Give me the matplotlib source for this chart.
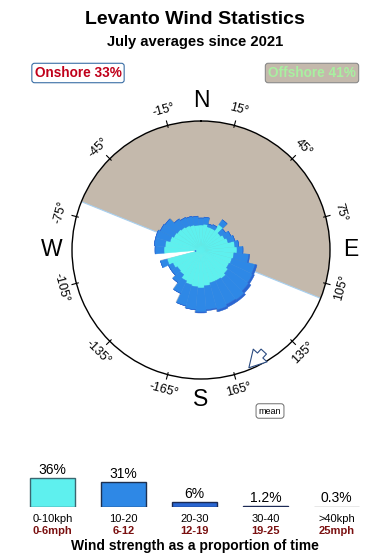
import numpy as np
import matplotlib.pyplot as plt

plt.rcParams['font.family'] = ['Liberation Sans', 'DejaVu Sans']

# wind rose, 10 degree bins, radial extent of each speed band
directions = np.arange(0, 360, 10)
band_0_10 = [2.5, 2.6, 2.4, 2.4, 3.1, 2.4, 2.6, 2.8, 3.4, 3.6, 3.3, 3.2,
             3.1, 3.3, 3.5, 3.4, 3.4, 3.6, 3.8, 3.7, 3.6, 3.4, 3.0, 2.9,
             3.1, 3.5, 0.5, 3.7, 3.6, 3.2, 3.0, 2.9, 2.8, 2.7, 2.6, 2.5]
band_10_20 = [0.7, 0.7, 0.3, 0.4, 0.6, 0.6, 0.7, 0.7, 0.4, 0.6, 1.5, 2.4,
              2.6, 2.5, 2.6, 2.6, 2.8, 2.4, 2.4, 2.3, 2.2, 1.4, 1.0, 0.7,
              0.5, 0.7, 0.1, 0.9, 1.1, 1.5, 1.5, 1.5, 1.0, 0.9, 0.9, 0.9]
band_20_30 = [0, 0, 0, 0, 0, 0, 0, 0, 0, 0, 0.1, 0.2,
              0.2, 0.3, 0.2, 0.3, 0.2, 0.1, 0.1, 0, 0, 0, 0, 0,
              0, 0, 0, 0, 0, 0, 0, 0, 0, 0, 0, 0]

speed_kph = ['0-10kph', '10-20', '20-30', '30-40', '>40kph']
speed_mph = ['0-6mph', '6-12', '12-19', '19-25', '25mph']
speed_share = [36, 31, 6, 1.2, 0.3]
share_labels = ['36%', '31%', '6%', '1.2%', '0.3%']

onshore_pct = 33
offshore_pct = 41
offshore_from, offshore_to = -68, 112
mean_dir = 159

band_colors = ['#5ef0ee', '#2e88e6', '#2a66d2', '#1c2a55', '#9a9a9a']
band_edges = ['#3b6670', '#1d3050', '#1a2a55', '#1c2a55', '#8a8a8a']
beige = '#c4b9ac'

W, H = 390, 560
fig = plt.figure(figsize=(W / 100, H / 100), dpi=100)

fig.text(0.5, 1 - 19 / H, 'Levanto Wind Statistics', ha='center', va='center',
         fontsize=14, fontweight='bold')
fig.text(0.5, 1 - 42 / H, 'July averages since 2021', ha='center', va='center',
         fontsize=10.6, fontweight='bold')

fig.text(78 / W, 1 - 73 / H, 'Onshore %d%%' % onshore_pct, ha='center', va='center',
         fontsize=9.8, fontweight='bold', color='#c0001a',
         bbox=dict(boxstyle='round,pad=0.2', fc='white', ec='#3a6ea5', lw=0.8))
fig.text(312 / W, 1 - 73 / H, 'Offshore %d%%' % offshore_pct, ha='center', va='center',
         fontsize=9.8, fontweight='bold', color='#a8f0a0',
         bbox=dict(boxstyle='round,pad=0.2', fc=beige, ec='#8a8a8a', lw=0.8))

# rose
cx, cy, R = 201, 250, 129
rmax = 12.9
ax = fig.add_axes([(cx - R) / W, (H - cy - R) / H, 2 * R / W, 2 * R / H],
                  projection='polar')
ax.set_theta_zero_location('N')
ax.set_theta_direction(-1)
ax.set_ylim(0, rmax)
ax.grid(False)
ax.set_xticks([])
ax.set_yticks([])
ax.spines['polar'].set_color('black')
ax.spines['polar'].set_linewidth(1.0)

mid = np.radians((offshore_from + offshore_to) / 2)
ax.bar(mid, rmax, width=np.radians(offshore_to - offshore_from), bottom=0,
       color=beige, edgecolor='none', zorder=1)
ax.plot([np.radians(offshore_from), 0, np.radians(offshore_to)], [rmax, 0, rmax],
        color='#a8d0f0', lw=0.8, zorder=1.5)

theta = np.radians(directions)
width = np.radians(10)
bottom = np.zeros(len(directions))
for vals, col, ec in zip([band_0_10, band_10_20, band_20_30], band_colors, band_edges):
    vals = np.array(vals)
    # slight darker shadow to mimic the 3D look
    ax.bar(theta + np.radians(1.0), vals, width=width, bottom=bottom,
           color=ec, edgecolor='none', alpha=0.3, zorder=2)
    ax.bar(theta, vals, width=width, bottom=bottom, color=col,
           edgecolor=col, linewidth=0.3, zorder=3)
    bottom = bottom + vals

# angle ticks and labels
for deg in range(-165, 180, 30):
    t = np.radians(deg)
    ax.plot([t, t], [rmax * 0.985, rmax * 1.035], color='black', lw=0.8,
            clip_on=False, zorder=4)
    rot = -deg if abs(deg) < 90 else 180 - deg
    ax.text(t, rmax * 1.124, '%d°' % deg, ha='center', va='center',
            rotation=rot, rotation_mode='anchor', fontsize=9)

for lab, deg in zip(['N', 'E', 'S', 'W'], [0, 90, 180, 270]):
    ax.text(np.radians(deg), rmax * 1.16, lab, ha='center', va='center', fontsize=16.5)

ax.annotate('', xy=(np.radians(mean_dir), rmax * 0.995),
            xytext=(np.radians(mean_dir - 12), rmax * 0.92),
            arrowprops=dict(arrowstyle='simple,head_length=0.8,head_width=0.9,tail_width=0.35',
                            fc='white', ec='#2a4a80', lw=0.8, mutation_scale=15),
            zorder=5)

fig.text(270 / W, 1 - 411 / H, 'mean', ha='center', va='center', fontsize=6.5,
         bbox=dict(boxstyle='round,pad=0.3', fc='white', ec='#555555', lw=0.6))

# speed distribution bars
bx = fig.add_axes([17 / W, (H - 507) / H, 355 / W, 40 / H])
pos = np.arange(len(speed_share))
bx.bar(pos, speed_share, width=45 / 71, color=band_colors, edgecolor=band_edges,
       linewidth=1.0)
bx.set_xlim(-0.5, 4.5)
bx.set_ylim(0, 50)
bx.axis('off')
for p, v, lab, kph, mph in zip(pos, speed_share, share_labels, speed_kph, speed_mph):
    bx.annotate(lab, xy=(p, v), xytext=(0, 6), textcoords='offset points',
                ha='center', va='center', fontsize=10)
    bx.annotate(kph, xy=(p, 0), xytext=(0, -9), textcoords='offset points',
                ha='center', va='center', fontsize=8)
    bx.annotate(mph, xy=(p, 0), xytext=(0, -17.3), textcoords='offset points',
                ha='center', va='center', fontsize=8, fontweight='bold',
                color='#7a1010')

fig.text(0.5, 1 - 546 / H, 'Wind strength as a proportion of time', ha='center',
         va='center', fontsize=10, fontweight='bold')

fig.savefig('out.png', dpi=100)
